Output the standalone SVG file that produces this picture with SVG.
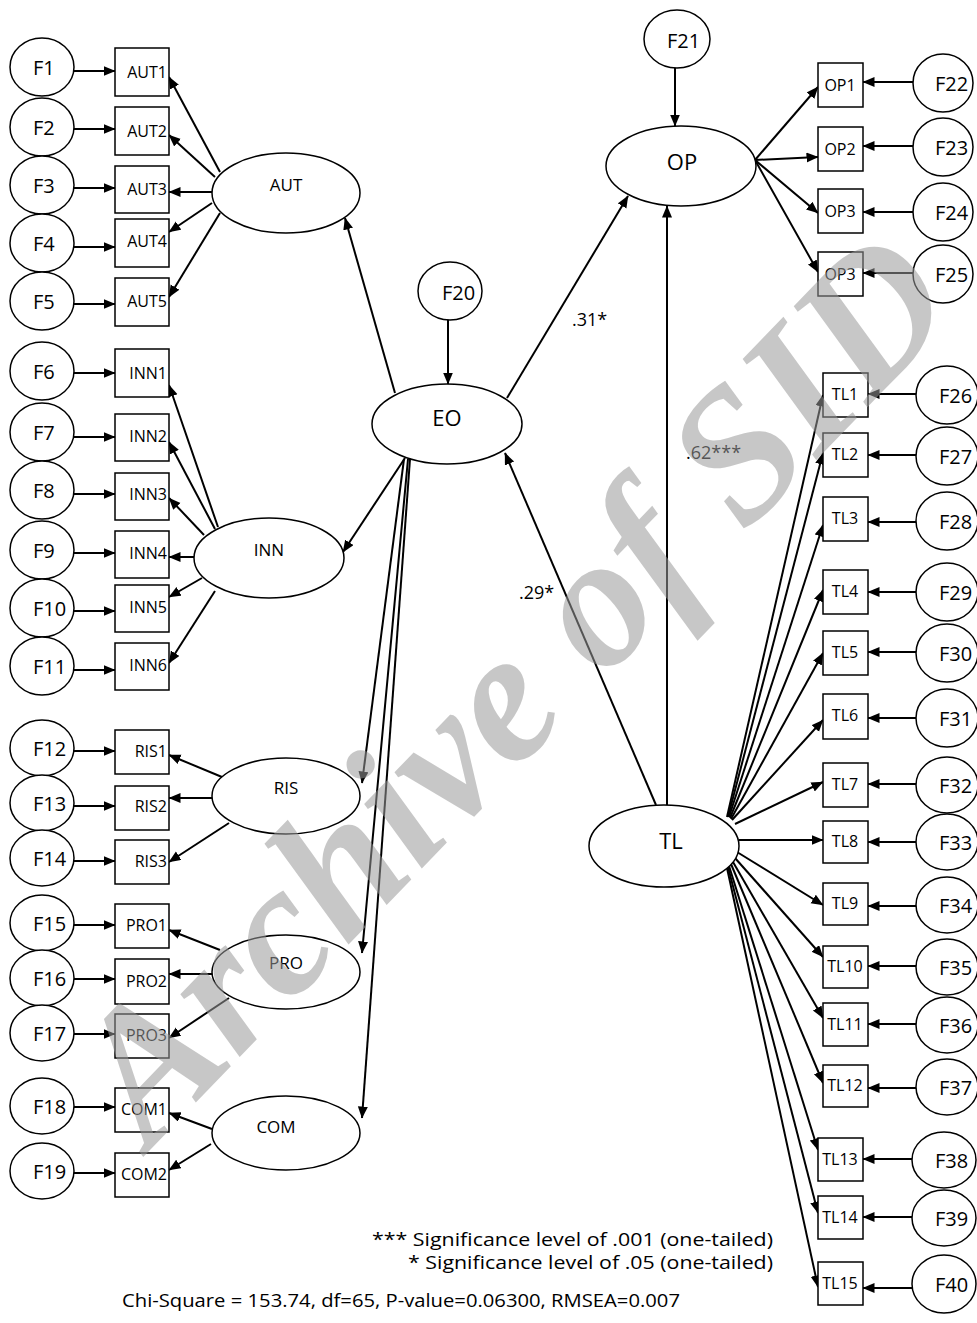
<svg xmlns="http://www.w3.org/2000/svg" width="977" height="1323" viewBox="0 0 977 1323">
<style>
.n ellipse,.n rect{fill:#fff;stroke:#000;stroke-width:1.5}
#connectors line{stroke:#000;stroke-width:2;marker-end:url(#ah)}
text{font-family:"Open Sans","Liberation Sans",sans-serif;fill:#000}
.f{font-size:20px}
.b{font-size:16px;text-anchor:end}
.r{font-size:16px;text-anchor:middle}
.l{font-size:17px;text-anchor:middle}
.L{font-size:22px;text-anchor:middle}
.p{font-size:18px}
.g{font-size:18px}
.wm{font-family:"Liberation Serif",serif;font-weight:bold;font-style:italic;font-size:188px;fill:#999;fill-opacity:0.55}
</style>
<defs>
<marker id="ah" markerUnits="userSpaceOnUse" markerWidth="13" markerHeight="11" refX="11.5" refY="5" orient="auto"><path d="M0,0 L12,5 L0,10 z" fill="#000"/></marker>
</defs>
<rect width="977" height="1323" fill="#fff"/>
<g id="connectors">
<line x1="74" y1="71" x2="115" y2="71"/>
<line x1="74" y1="129" x2="115" y2="129"/>
<line x1="74" y1="188" x2="115" y2="188"/>
<line x1="74" y1="247" x2="115" y2="247"/>
<line x1="74" y1="304" x2="115" y2="304"/>
<line x1="74" y1="373" x2="115" y2="373"/>
<line x1="74" y1="437" x2="115" y2="437"/>
<line x1="74" y1="494" x2="115" y2="494"/>
<line x1="74" y1="553" x2="115" y2="553"/>
<line x1="74" y1="611" x2="115" y2="611"/>
<line x1="74" y1="670" x2="115" y2="670"/>
<line x1="74" y1="751" x2="115" y2="751"/>
<line x1="74" y1="806" x2="115" y2="806"/>
<line x1="74" y1="861" x2="115" y2="861"/>
<line x1="74" y1="925" x2="115" y2="925"/>
<line x1="74" y1="979" x2="115" y2="979"/>
<line x1="74" y1="1034" x2="115" y2="1034"/>
<line x1="74" y1="1107" x2="115" y2="1107"/>
<line x1="74" y1="1173" x2="115" y2="1173"/>
<line x1="220" y1="172" x2="169" y2="77"/>
<line x1="215" y1="177" x2="169" y2="135"/>
<line x1="212" y1="192" x2="169" y2="192"/>
<line x1="212" y1="203" x2="169" y2="232"/>
<line x1="220" y1="213" x2="169" y2="297"/>
<line x1="218" y1="527" x2="169" y2="385"/>
<line x1="215" y1="529" x2="169" y2="442"/>
<line x1="204" y1="535" x2="169" y2="498"/>
<line x1="194" y1="557" x2="169" y2="557"/>
<line x1="202" y1="578" x2="169" y2="597"/>
<line x1="215" y1="591" x2="169" y2="663"/>
<line x1="222" y1="777" x2="169" y2="755"/>
<line x1="212" y1="798" x2="169" y2="798"/>
<line x1="229" y1="823" x2="169" y2="862"/>
<line x1="220" y1="950" x2="169" y2="930"/>
<line x1="212" y1="974" x2="169" y2="974"/>
<line x1="229" y1="998" x2="169" y2="1038"/>
<line x1="212" y1="1129" x2="169" y2="1113"/>
<line x1="211" y1="1144" x2="169" y2="1170"/>
<line x1="448" y1="320" x2="448" y2="384"/>
<line x1="395" y1="393" x2="345" y2="218"/>
<line x1="507" y1="398" x2="628" y2="196"/>
<line x1="405" y1="458" x2="343" y2="552"/>
<line x1="404" y1="459" x2="362" y2="783"/>
<line x1="408" y1="459" x2="362" y2="953"/>
<line x1="410" y1="459" x2="362" y2="1118"/>
<line x1="656" y1="805" x2="505" y2="453"/>
<line x1="667" y1="805" x2="667" y2="206"/>
<line x1="675" y1="68" x2="675" y2="126"/>
<line x1="755" y1="160" x2="818" y2="87"/>
<line x1="755" y1="160" x2="818" y2="157"/>
<line x1="755" y1="160" x2="818" y2="213"/>
<line x1="755" y1="160" x2="818" y2="272"/>
<line x1="913" y1="82" x2="863" y2="82"/>
<line x1="913" y1="146" x2="863" y2="146"/>
<line x1="913" y1="212" x2="863" y2="212"/>
<line x1="913" y1="273" x2="863" y2="273"/>
<line x1="727" y1="817" x2="823" y2="395"/>
<line x1="728" y1="817" x2="823" y2="453"/>
<line x1="729" y1="817" x2="823" y2="525"/>
<line x1="730" y1="818" x2="823" y2="590"/>
<line x1="731" y1="819" x2="823" y2="653"/>
<line x1="732" y1="820" x2="823" y2="720"/>
<line x1="735" y1="824" x2="823" y2="782"/>
<line x1="739" y1="840" x2="823" y2="840"/>
<line x1="737" y1="852" x2="823" y2="905"/>
<line x1="735" y1="858" x2="823" y2="957"/>
<line x1="733" y1="862" x2="823" y2="1018"/>
<line x1="731" y1="864" x2="823" y2="1083"/>
<line x1="729" y1="866" x2="818" y2="1150"/>
<line x1="728" y1="867" x2="818" y2="1213"/>
<line x1="727" y1="868" x2="818" y2="1287"/>
<line x1="917" y1="394" x2="868" y2="394"/>
<line x1="917" y1="455" x2="868" y2="455"/>
<line x1="917" y1="522" x2="868" y2="522"/>
<line x1="917" y1="592" x2="868" y2="592"/>
<line x1="917" y1="652" x2="868" y2="652"/>
<line x1="917" y1="718" x2="868" y2="718"/>
<line x1="917" y1="784" x2="868" y2="784"/>
<line x1="917" y1="842" x2="868" y2="842"/>
<line x1="917" y1="906" x2="868" y2="906"/>
<line x1="917" y1="966" x2="868" y2="966"/>
<line x1="917" y1="1024" x2="868" y2="1024"/>
<line x1="917" y1="1088" x2="868" y2="1088"/>
<line x1="912" y1="1159" x2="863" y2="1159"/>
<line x1="912" y1="1217" x2="863" y2="1217"/>
<line x1="912" y1="1288" x2="863" y2="1288"/>
</g>

<g id="F1" class="n"><ellipse cx="42" cy="67" rx="32" ry="29"/><text class="f" x="33" y="75">F1</text></g>
<g id="F2" class="n"><ellipse cx="42" cy="127" rx="32" ry="29"/><text class="f" x="33" y="135">F2</text></g>
<g id="F3" class="n"><ellipse cx="42" cy="185" rx="32" ry="29"/><text class="f" x="33" y="193">F3</text></g>
<g id="F4" class="n"><ellipse cx="42" cy="243" rx="32" ry="29"/><text class="f" x="33" y="251">F4</text></g>
<g id="F5" class="n"><ellipse cx="42" cy="301" rx="32" ry="29"/><text class="f" x="33" y="309">F5</text></g>
<g id="F6" class="n"><ellipse cx="42" cy="371" rx="32" ry="29"/><text class="f" x="33" y="379">F6</text></g>
<g id="F7" class="n"><ellipse cx="42" cy="432" rx="32" ry="29"/><text class="f" x="33" y="440">F7</text></g>
<g id="F8" class="n"><ellipse cx="42" cy="490" rx="32" ry="29"/><text class="f" x="33" y="498">F8</text></g>
<g id="F9" class="n"><ellipse cx="42" cy="550" rx="32" ry="29"/><text class="f" x="33" y="558">F9</text></g>
<g id="F10" class="n"><ellipse cx="42" cy="608" rx="32" ry="29"/><text class="f" x="33" y="616">F10</text></g>
<g id="F11" class="n"><ellipse cx="42" cy="666" rx="32" ry="29"/><text class="f" x="33" y="674">F11</text></g>
<g id="F12" class="n"><ellipse cx="42" cy="748" rx="32" ry="28"/><text class="f" x="33" y="756">F12</text></g>
<g id="F13" class="n"><ellipse cx="42" cy="803" rx="32" ry="28"/><text class="f" x="33" y="811">F13</text></g>
<g id="F14" class="n"><ellipse cx="42" cy="858" rx="32" ry="28"/><text class="f" x="33" y="866">F14</text></g>
<g id="F15" class="n"><ellipse cx="42" cy="923" rx="32" ry="28"/><text class="f" x="33" y="931">F15</text></g>
<g id="F16" class="n"><ellipse cx="42" cy="978" rx="32" ry="28"/><text class="f" x="33" y="986">F16</text></g>
<g id="F17" class="n"><ellipse cx="42" cy="1033" rx="32" ry="28"/><text class="f" x="33" y="1041">F17</text></g>
<g id="F18" class="n"><ellipse cx="42" cy="1106" rx="32" ry="28"/><text class="f" x="33" y="1114">F18</text></g>
<g id="F19" class="n"><ellipse cx="42" cy="1171" rx="32" ry="28"/><text class="f" x="33" y="1179">F19</text></g>

<g id="AUT1" class="n"><rect x="115" y="48" width="54" height="48"/><text class="b" x="167" y="78">AUT1</text></g>
<g id="AUT2" class="n"><rect x="115" y="107" width="54" height="48"/><text class="b" x="167" y="137">AUT2</text></g>
<g id="AUT3" class="n"><rect x="115" y="166" width="54" height="47"/><text class="b" x="167" y="195">AUT3</text></g>
<g id="AUT4" class="n"><rect x="115" y="219" width="54" height="48"/><text class="b" x="167" y="247">AUT4</text></g>
<g id="AUT5" class="n"><rect x="115" y="278" width="54" height="48"/><text class="b" x="167" y="307">AUT5</text></g>
<g id="INN1" class="n"><rect x="115" y="349" width="54" height="48"/><text class="b" x="167" y="379">INN1</text></g>
<g id="INN2" class="n"><rect x="115" y="414" width="54" height="47"/><text class="b" x="167" y="442">INN2</text></g>
<g id="INN3" class="n"><rect x="115" y="473" width="54" height="47"/><text class="b" x="167" y="500">INN3</text></g>
<g id="INN4" class="n"><rect x="115" y="531" width="54" height="47"/><text class="b" x="167" y="559">INN4</text></g>
<g id="INN5" class="n"><rect x="115" y="585" width="54" height="47"/><text class="b" x="167" y="613">INN5</text></g>
<g id="INN6" class="n"><rect x="115" y="643" width="54" height="47"/><text class="b" x="167" y="671">INN6</text></g>
<g id="RIS1" class="n"><rect x="115" y="730" width="54" height="44"/><text class="b" x="167" y="757">RIS1</text></g>
<g id="RIS2" class="n"><rect x="115" y="786" width="54" height="44"/><text class="b" x="167" y="812">RIS2</text></g>
<g id="RIS3" class="n"><rect x="115" y="840" width="54" height="44"/><text class="b" x="167" y="867">RIS3</text></g>
<g id="PRO1" class="n"><rect x="115" y="904" width="54" height="44"/><text class="b" x="167" y="931">PRO1</text></g>
<g id="PRO2" class="n"><rect x="115" y="959" width="54" height="45"/><text class="b" x="167" y="987">PRO2</text></g>
<g id="PRO3" class="n"><rect x="115" y="1014" width="54" height="44"/><text class="b" x="167" y="1041">PRO3</text></g>
<g id="COM1" class="n"><rect x="115" y="1088" width="54" height="44"/><text class="b" x="167" y="1115">COM1</text></g>
<g id="COM2" class="n"><rect x="115" y="1153" width="54" height="44"/><text class="b" x="167" y="1180">COM2</text></g>

<g id="AUT" class="n"><ellipse cx="286" cy="193" rx="74" ry="40"/><text class="l" x="286" y="191">AUT</text></g>
<g id="INN" class="n"><ellipse cx="269" cy="558" rx="75" ry="40"/><text class="l" x="269" y="556">INN</text></g>
<g id="RIS" class="n"><ellipse cx="286" cy="796" rx="74" ry="38"/><text class="l" x="286" y="794">RIS</text></g>
<g id="PRO" class="n"><ellipse cx="286" cy="972" rx="74" ry="37"/><text class="l" x="286" y="969">PRO</text></g>
<g id="COM" class="n"><ellipse cx="286" cy="1133" rx="74" ry="37"/><text class="l" x="276" y="1133">COM</text></g>
<g id="EO" class="n"><ellipse cx="447" cy="424" rx="75" ry="40"/><text class="L" x="447" y="426">EO</text></g>
<g id="F20" class="n"><ellipse cx="450" cy="291" rx="32" ry="29"/><text class="f" x="442" y="300">F20</text></g>
<g id="OP" class="n"><ellipse cx="681" cy="166" rx="75" ry="40"/><text class="L" x="682" y="170">OP</text></g>
<g id="F21" class="n"><ellipse cx="677" cy="39" rx="33" ry="29"/><text class="f" x="667" y="48">F21</text></g>
<g id="TL" class="n"><ellipse cx="664" cy="846" rx="75" ry="41"/><text class="L" x="671" y="849">TL</text></g>

<g id="OP1" class="n"><rect x="818" y="63" width="45" height="44"/><text class="r" x="840" y="91">OP1</text></g>
<g id="OP2" class="n"><rect x="818" y="127" width="45" height="44"/><text class="r" x="840" y="155">OP2</text></g>
<g id="OP3a" class="n"><rect x="818" y="189" width="45" height="44"/><text class="r" x="840" y="217">OP3</text></g>
<g id="OP3b" class="n"><rect x="818" y="252" width="45" height="44"/><text class="r" x="840" y="280">OP3</text></g>
<g id="F22" class="n"><ellipse cx="943" cy="83" rx="30" ry="29"/><text class="f" x="935" y="91">F22</text></g>
<g id="F23" class="n"><ellipse cx="943" cy="147" rx="30" ry="29"/><text class="f" x="935" y="155">F23</text></g>
<g id="F24" class="n"><ellipse cx="943" cy="212" rx="30" ry="29"/><text class="f" x="935" y="220">F24</text></g>
<g id="F25" class="n"><ellipse cx="943" cy="274" rx="30" ry="29"/><text class="f" x="935" y="282">F25</text></g>

<g id="TL1" class="n"><rect x="823" y="373" width="45" height="44"/><text class="r" x="845" y="400">TL1</text></g>
<g id="TL2" class="n"><rect x="823" y="433" width="45" height="44"/><text class="r" x="845" y="460">TL2</text></g>
<g id="TL3" class="n"><rect x="823" y="497" width="45" height="44"/><text class="r" x="845" y="524">TL3</text></g>
<g id="TL4" class="n"><rect x="823" y="570" width="45" height="44"/><text class="r" x="845" y="597">TL4</text></g>
<g id="TL5" class="n"><rect x="823" y="631" width="45" height="44"/><text class="r" x="845" y="658">TL5</text></g>
<g id="TL6" class="n"><rect x="823" y="694" width="45" height="45"/><text class="r" x="845" y="721">TL6</text></g>
<g id="TL7" class="n"><rect x="823" y="763" width="45" height="44"/><text class="r" x="845" y="790">TL7</text></g>
<g id="TL8" class="n"><rect x="823" y="821" width="45" height="42"/><text class="r" x="845" y="847">TL8</text></g>
<g id="TL9" class="n"><rect x="823" y="883" width="45" height="42"/><text class="r" x="845" y="909">TL9</text></g>
<g id="TL10" class="n"><rect x="823" y="946" width="45" height="42"/><text class="r" x="845" y="972">TL10</text></g>
<g id="TL11" class="n"><rect x="823" y="1003" width="45" height="43"/><text class="r" x="845" y="1030">TL11</text></g>
<g id="TL12" class="n"><rect x="823" y="1065" width="45" height="42"/><text class="r" x="845" y="1091">TL12</text></g>
<g id="TL13" class="n"><rect x="818" y="1138" width="45" height="43"/><text class="r" x="840" y="1165">TL13</text></g>
<g id="TL14" class="n"><rect x="818" y="1196" width="45" height="43"/><text class="r" x="840" y="1223">TL14</text></g>
<g id="TL15" class="n"><rect x="818" y="1262" width="45" height="43"/><text class="r" x="840" y="1289">TL15</text></g>
<g id="F26" class="n"><ellipse cx="947" cy="395" rx="31" ry="29"/><text class="f" x="939" y="403">F26</text></g>
<g id="F27" class="n"><ellipse cx="947" cy="456" rx="31" ry="29"/><text class="f" x="939" y="464">F27</text></g>
<g id="F28" class="n"><ellipse cx="947" cy="521" rx="31" ry="29"/><text class="f" x="939" y="529">F28</text></g>
<g id="F29" class="n"><ellipse cx="947" cy="592" rx="31" ry="29"/><text class="f" x="939" y="600">F29</text></g>
<g id="F30" class="n"><ellipse cx="947" cy="653" rx="31" ry="29"/><text class="f" x="939" y="661">F30</text></g>
<g id="F31" class="n"><ellipse cx="947" cy="718" rx="31" ry="29"/><text class="f" x="939" y="726">F31</text></g>
<g id="F32" class="n"><ellipse cx="947" cy="785" rx="31" ry="28"/><text class="f" x="939" y="793">F32</text></g>
<g id="F33" class="n"><ellipse cx="947" cy="842" rx="31" ry="28"/><text class="f" x="939" y="850">F33</text></g>
<g id="F34" class="n"><ellipse cx="947" cy="905" rx="31" ry="28"/><text class="f" x="939" y="913">F34</text></g>
<g id="F35" class="n"><ellipse cx="947" cy="967" rx="31" ry="28"/><text class="f" x="939" y="975">F35</text></g>
<g id="F36" class="n"><ellipse cx="947" cy="1025" rx="31" ry="28"/><text class="f" x="939" y="1033">F36</text></g>
<g id="F37" class="n"><ellipse cx="947" cy="1087" rx="31" ry="28"/><text class="f" x="939" y="1095">F37</text></g>
<g id="F38" class="n"><ellipse cx="944" cy="1160" rx="32" ry="28"/><text class="f" x="935" y="1168">F38</text></g>
<g id="F39" class="n"><ellipse cx="944" cy="1218" rx="32" ry="28"/><text class="f" x="935" y="1226">F39</text></g>
<g id="F40" class="n"><ellipse cx="944" cy="1284" rx="32" ry="29"/><text class="f" x="935" y="1292">F40</text></g>

<g id="labels">
<text class="p" x="572" y="326">.31*</text>
<text class="p" x="686" y="459">.62***</text>
<text class="p" x="519" y="599">.29*</text>
<text class="g" x="372" y="1246" textLength="401" lengthAdjust="spacingAndGlyphs">*** Significance level of .001 (one-tailed)</text>
<text class="g" x="408" y="1269" textLength="365" lengthAdjust="spacingAndGlyphs">* Significance level of .05 (one-tailed)</text>
<text class="g" x="122" y="1307" textLength="558" lengthAdjust="spacingAndGlyphs">Chi-Square = 153.74, df=65, P-value=0.06300, RMSEA=0.007</text>
</g>
<text class="wm" transform="translate(150,1150) rotate(-46)">Archive of SID</text>
</svg>
